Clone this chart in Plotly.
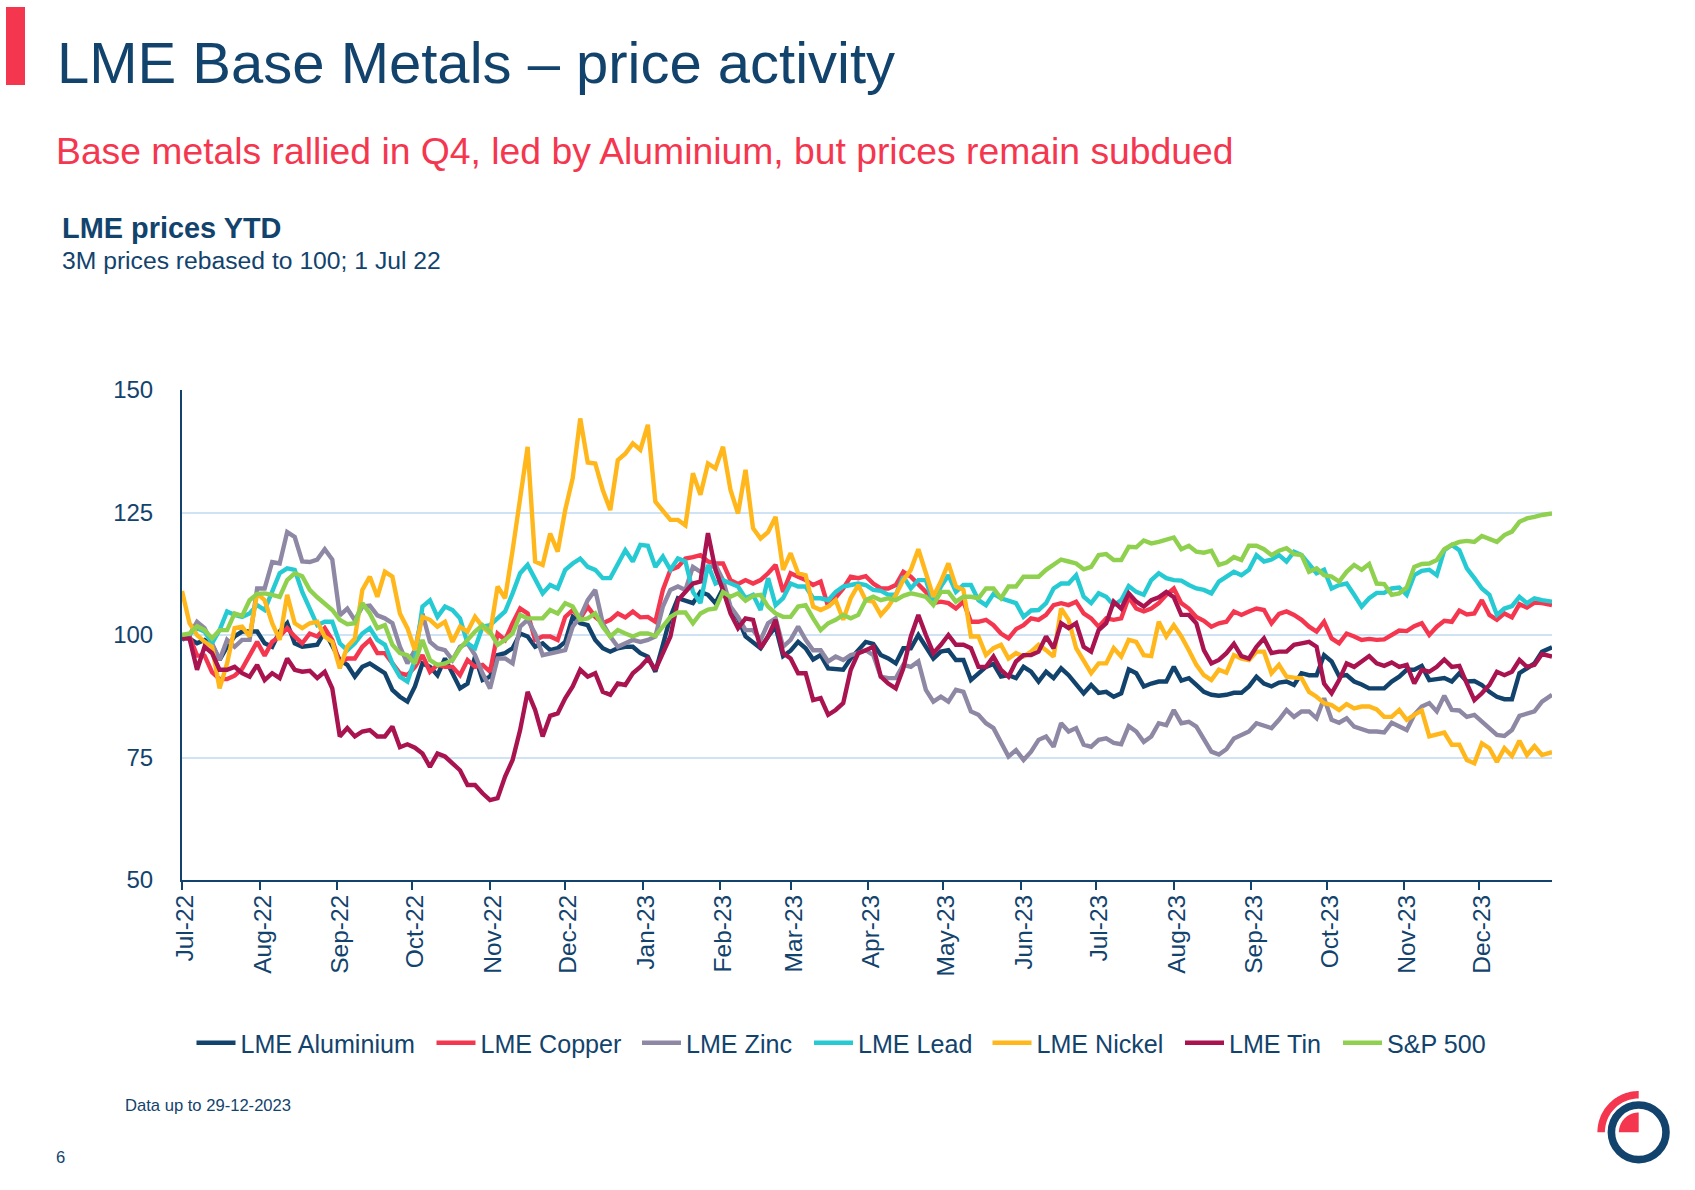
import datetime as dt
import numpy as np
import plotly.graph_objects as go

W, H = 1695, 1190
NAVY = "#12436D"
RED = "#F5364F"

# Sampled every three calendar days from 1 Jul 2022, closing at the end of Dec 2023
START = dt.date(2022, 7, 1)
END = dt.date(2023, 12, 30)
dates = [START + dt.timedelta(days=3 * i) for i in range(182)] + [END]

aluminium = [
    99.7, 99.3, 98.3, 99, 98, 94.9, 97.6, 99.7, 100.7, 100.7, 100.7, 98.3, 97.6, 100.7, 102.4, 98.3,
    97.6, 97.8, 98, 100.7, 97.6, 94.9, 93.9, 91.5, 93.5, 94.2, 93.2, 92.2, 88.8, 87.4, 86.4, 89.5,
    94.2, 93.5, 91.8, 95.2, 92.2, 89.1, 90.1, 95.6, 90.8, 91.5, 95.9, 96.3, 97.3, 100.3, 99.7, 97.6,
    98.3, 96.9, 97.3, 98.6, 103.7, 102.4, 102, 99, 97.3, 96.6, 97.3, 97.6, 97.6, 96.3,
    95.6, 92.5, 98, 103.7, 107.5, 107.1, 106.5, 108.8, 108.2, 106.5, 109.5, 105.1, 103.4, 99.7, 98.6, 97.3,
    99.7, 101.7, 95.7, 96.8, 98.6, 97.3, 95, 95.9, 93.2, 93.1, 92.9, 95.2, 96.9, 98.6, 98.2,
    95.9, 95.2, 94.2, 97.3, 97.3, 100, 97.6, 95.2, 96.6, 96.9, 94.9, 94.9, 90.8, 92.2, 93.5,
    94.1, 91.5, 91.8, 91.2, 93.5, 92.5, 90.5, 92.5, 91.2, 93.2, 91.8, 90.1, 88.1, 89.8, 88.2,
    88.4, 87.4, 88.1, 93, 92.2, 89.5, 90.1, 90.5, 90.5, 93.5, 90.7, 91.2, 89.8, 88.4, 87.8, 87.6,
    87.8, 88.2, 88.2, 89.5, 91.5, 90.1, 89.5, 90.3, 90.5, 89.8, 92.2, 91.8, 91.8, 95.9, 94.6,
    91.6, 91.8, 90.5, 89.9, 89.1, 89.1, 89.1, 90.5, 91.5, 92.9, 92.9, 93.7, 90.8, 91, 91.2,
    90.5, 92.2, 90.5, 90.6, 89.8, 88.4, 87.4, 86.9, 86.9, 92.2, 93.2, 94.2, 96.6, 97.5,
]
copper = [
    99.7, 99.7, 95.8, 95.8, 92.4, 91, 91, 91.7, 93.1, 95.8, 98.6, 95.8, 98.6, 99.7, 101.4, 99.7,
    98.3, 100.3, 99.7, 101.4, 99, 94.2, 95.2, 95.2, 97.6, 99, 96.3, 96.3, 94.2, 92.2, 91.8, 93.5,
    95.9, 92.5, 93.9, 93.5, 93.5, 91.8, 94.9, 93.5, 93.9, 92.5, 100.3, 99, 102.4, 105.4, 104.4, 99,
    99.7, 99.7, 99, 103.7, 105.1, 103.4, 105.8, 103.7, 102.4, 103.1, 104.4, 103.6, 104.8, 103.6,
    103.7, 102.7, 109.2, 113.3, 113.9, 115.6, 115.9, 116.3, 115, 114.6, 114.6, 111.2, 110.4, 111.2, 110.5, 111.2,
    112.6, 114.3, 108.8, 112.6, 111.9, 111.2, 110.2, 110.9, 105.8, 107.5, 109.5, 111.9, 111.6, 112, 110.5,
    109.5, 109.5, 110.2, 112.9, 111.9, 110.2, 108.8, 106.5, 106.8, 106.5, 105.4, 106.8, 102.7, 102.7, 103.1,
    102, 100.3, 99.3, 101.2, 102, 103.4, 103.1, 104.1, 106.1, 106.5, 106.1, 106.8, 104.4, 103.4, 101.7,
    103.4, 103.1, 103.4, 107.7, 105.4, 104.8, 105.4, 106.5, 108.2, 109.5, 106.5, 105.4, 103.7, 102.9, 101.7, 102.4,
    102.7, 104.8, 104.1, 104.8, 105.4, 105.1, 102.4, 104.3, 104.8, 104.1, 103.1, 101.7, 100.7, 102.7, 99.3,
    98.3, 100.3, 99.7, 99, 99.2, 99, 99.1, 100, 100.9, 100.8, 101.8, 102.4, 100, 101.7, 102.9,
    102.7, 105, 104.2, 104.4, 107.1, 104.1, 103.1, 104.4, 103.6, 106.3, 105.6, 106.6, 106.5, 106.1,
]
zinc = [
    100, 100, 102.7, 101.4, 98.3, 94.9, 99, 97.6, 99, 99, 109.5, 109.5, 114.9, 114.6, 121, 120,
    115, 114.9, 115.4, 117.5, 115.4, 104, 105.4, 103, 105.8, 106, 104, 103.4, 102.4, 97.6, 94.2, 96.9,
    104.4, 98.6, 97.3, 96.9, 94.9, 97.6, 98.3, 95.9, 92.2, 89.1, 95.2, 95.2, 94.2, 101.7, 103.1, 100.3,
    95.9, 96.3, 96.6, 96.9, 101.7, 103.7, 107.1, 109.2, 102.4, 99.7, 97.6, 98.3, 99, 98.6,
    99, 99.7, 105.8, 109.2, 109.9, 109.2, 113.9, 112.9, 113.6, 114.3, 111.2, 105.8, 103.7, 101, 101, 99,
    102.4, 103.4, 97.6, 99, 101.7, 99, 96.9, 96.9, 94.6, 95.6, 94.9, 95.9, 96.3, 96.9, 95.9,
    91.5, 91.2, 91.2, 93.9, 93.5, 94.6, 88.8, 86.4, 87.4, 86.4, 88.8, 88.4, 84.4, 83.7, 82,
    81, 78.2, 75.2, 76.5, 74.5, 76.2, 78.6, 79.3, 77.2, 82, 80.3, 81, 77.6, 77.2, 78.6,
    78.9, 78, 77.7, 81.4, 80.3, 78.2, 79.3, 82, 81.6, 84.7, 82, 82.3, 81.3, 78.6, 76.2, 75.6,
    76.7, 78.9, 79.6, 80.3, 82, 81.6, 81, 82.7, 84.7, 83.3, 84.4, 84.4, 83, 87.1, 82.7,
    82.1, 83, 81.3, 80.7, 80.3, 80.3, 80.1, 82.1, 81.4, 80.6, 83.7, 85.4, 86.1, 84.4, 87.6,
    84.7, 84.6, 83.3, 83.7, 82.3, 81, 79.6, 79.4, 80.6, 83.5, 84, 84.4, 86.4, 87.8,
]
lead = [
    98.9, 100.3, 101.4, 100.7, 98.3, 101, 104.8, 104.1, 103.7, 104.4, 106.1, 105.1, 108.8, 112.6, 113.6, 113.3,
    108.8, 105.4, 102, 102.7, 102.7, 98.3, 96.9, 98.3, 100.3, 101.4, 99, 98, 94.2, 91.5, 90.5, 95,
    105.8, 107.1, 103.7, 105.8, 105.1, 103.4, 98.3, 97.3, 101.7, 102, 103.4, 104.8, 108.5, 112.6, 114.3, 111.2,
    108.5, 110.2, 109.5, 113.3, 114.6, 115.6, 113.9, 113.3, 111.6, 111.6, 114.3, 117.3, 115, 118.4,
    118.2, 113.9, 116, 113.3, 115.6, 115, 108.8, 106.5, 114.3, 110.5, 111.2, 110.5, 109.9, 107.5, 108.2, 105.1,
    111.6, 106.1, 107.5, 110.5, 109.9, 109.9, 107.5, 107.5, 107.1, 108.8, 109.9, 110.2, 110.5, 110.2, 109.2,
    109, 108.2, 108.2, 111.9, 109.5, 111.2, 111.2, 106.5, 109.9, 112.2, 108.8, 110.2, 110.2, 107.1, 106.1,
    108.4, 107.5, 107.1, 106.5, 103.7, 105, 105.1, 106.5, 109.5, 110.5, 110.5, 112.2, 107.8, 106.5, 108.5,
    107.8, 106.1, 107.1, 110, 108.8, 108.2, 111.2, 112.6, 111.6, 111.2, 111.1, 110.2, 109.5, 109.2, 108.5, 110.9,
    111.9, 112.9, 112.2, 113.3, 116.3, 115, 115.4, 116.3, 115, 117, 116.3, 114.3, 112.6, 113.3, 109.5,
    110.2, 110.5, 108.2, 105.8, 107.5, 108.6, 108.6, 109.5, 109.7, 108.2, 112.2, 113.1, 113.3, 112.2, 117.3,
    118.4, 117.3, 113.6, 111.6, 109.5, 108.2, 104.1, 105.4, 105.9, 107.8, 106.5, 107.5, 107.1, 106.8,
]
nickel = [
    109, 102.4, 100, 98.6, 97.6, 89.1, 94.2, 101.4, 101.7, 99.7, 108.5, 107.1, 102.4, 99, 108.2, 102.4,
    101.4, 102.4, 102.7, 99.7, 98.6, 93.2, 97.6, 99.3, 109.2, 111.9, 107.8, 112.9, 111.9, 104.4, 101.4, 96.9,
    103.7, 103.1, 101.7, 102.7, 98.6, 101.7, 100.7, 103.7, 101.7, 100.3, 109.9, 107.5, 117.3, 128.2, 138.4, 115,
    114.3, 120.7, 117, 125.5, 132, 144.2, 135.2, 135, 129.6, 125.5, 135.7, 137, 139.1, 137.8,
    142.9, 127.2, 125.5, 123.5, 123.5, 122.4, 133, 128.6, 135, 134, 138.4, 129.6, 124.8, 133.7, 121.8, 119.7,
    121, 124.1, 113.3, 116.7, 112.6, 112.2, 105.8, 105.1, 105.8, 107.1, 103.1, 107.5, 110.2, 107.1, 106.8,
    104.1, 105.8, 108.2, 111.2, 113.3, 117.5, 112.6, 107.8, 110.9, 114.6, 109.9, 109.2, 99.7, 99.7, 95.9,
    97.3, 98, 95.2, 96.3, 95.6, 96.6, 98, 96.9, 95.6, 105.4, 103.1, 97.3, 94.9, 92.2, 94.2,
    94.2, 97.3, 95.6, 99, 98.6, 95.9, 95.7, 102.7, 99.7, 102, 99.7, 96.9, 93.9, 91.8, 90.8, 92.9,
    92.3, 95.9, 95.2, 94.9, 96.6, 96.6, 92.2, 93.9, 91.5, 91.3, 91.2, 88.4, 87.4, 86.1, 85.7,
    84.7, 85.9, 85, 85.4, 85.4, 84.8, 83.3, 83.3, 84.7, 82.7, 83.7, 84.6, 79.3, 79.8, 80.1,
    77.6, 77.6, 74.5, 73.8, 77.9, 76.9, 74.1, 76.9, 75.3, 78.4, 75.5, 77.3, 75.5, 76.1,
]
tin = [
    99.3, 99.3, 92.9, 97.6, 96.3, 92.9, 92.9, 93.5, 92.2, 91.5, 93.9, 90.8, 92.2, 91.2, 95.2, 92.9,
    92.5, 92.7, 91.2, 92.5, 89.1, 79.3, 81, 79.3, 80.3, 80.6, 79.3, 79.3, 81.3, 77.1, 77.7, 77,
    75.8, 73.1, 75.8, 75.2, 73.8, 72.4, 69.4, 69.4, 67.7, 66.3, 66.7, 71.1, 74.5, 80.6, 88.4, 84.7,
    79.3, 83.5, 84, 87.1, 89.5, 92.9, 91.5, 92.2, 88.4, 87.8, 90.1, 89.8, 92.2, 93.5,
    95.2, 92.9, 96.3, 99.7, 107.1, 108.8, 110.5, 110.9, 120.8, 113.3, 109.2, 104.4, 101.4, 103.4, 103.1, 97.3,
    99.7, 103.1, 96.3, 95.2, 92.2, 92.2, 86.7, 87.1, 83.7, 84.7, 86.1, 92.9, 96.3, 96.9, 97.6,
    91.5, 90.1, 89.1, 93.2, 99.7, 104.1, 100, 96.3, 98, 100, 98, 98, 97.3, 93.5, 93.5,
    95.6, 92.9, 91.5, 94.6, 95.9, 95.9, 96.6, 99.7, 97.3, 102.4, 101.4, 102.4, 97.6, 96.6, 101,
    102.4, 106.8, 105.4, 108.5, 106.8, 105.8, 107.1, 107.7, 108.8, 107.7, 104.1, 104.1, 102.4, 96.9, 94.2, 94.9,
    96.3, 98.2, 95.7, 95.2, 97.6, 99.3, 96.3, 96.6, 96.6, 98, 98.3, 98.6, 97.6, 90.1, 88.1,
    90.8, 94.2, 93.5, 94.6, 95.7, 94.2, 93.7, 94.4, 93.5, 93.9, 90.1, 92.9, 92.5, 93.5, 95,
    93.5, 93.7, 90.1, 86.7, 88.1, 89.8, 92.5, 91.8, 92.5, 94.9, 93.5, 93.9, 96.1, 95.6,
]
sp500 = [
    100, 100.3, 101.8, 101, 99.3, 101, 101, 104.4, 103.9, 107.1, 108.4, 108.5, 108.2, 107.8, 111.2, 112.6,
    112, 109.2, 107.7, 106.5, 105.1, 103.1, 102.2, 102.4, 106.5, 104.4, 101.4, 102, 98, 96.3, 95.9, 94.2,
    99, 94.9, 93.9, 94.2, 94.9, 97.3, 99, 100.7, 102, 100.7, 98, 99, 100.3, 104.1, 103.4, 103.4,
    103.4, 105.1, 104.4, 106.5, 105.8, 103.1, 103.4, 104.4, 101.7, 99.7, 101, 100.3, 99.7, 100.3,
    100.3, 99.8, 101.7, 103.7, 104.6, 104.6, 102.4, 104.4, 105.2, 105.4, 108.8, 107.8, 108.5, 107, 108, 108.2,
    105.8, 104.4, 103.7, 103.7, 105.8, 106.1, 103.4, 101, 102.4, 103.1, 104.1, 103.4, 104.1, 107.1, 107.8,
    107.1, 107.5, 107.1, 108, 108.5, 108.2, 107.8, 106.1, 108.8, 108.8, 106.8, 107.8, 107.8, 107.5, 109.5,
    109.5, 107.5, 109.9, 109.9, 111.9, 111.9, 111.9, 113.3, 114.3, 115.4, 115, 114.6, 113.4, 113.9, 116.3,
    116.5, 115.3, 115.3, 118, 117.9, 119.3, 118.7, 119, 119.4, 119.9, 117.5, 118.2, 117, 116.8, 117.2, 114.3,
    114.8, 115.9, 115.3, 118.2, 118.2, 117.5, 116.3, 117.2, 117.7, 116.5, 116.3, 112.9, 113.6, 112.2, 111.9,
    110.9, 112.9, 114.3, 113.3, 114.5, 110.5, 110.4, 108.2, 108.5, 109.7, 113.9, 114.5, 114.6, 115.3, 117.5,
    118.4, 119, 119.2, 119, 120.2, 119.6, 119, 120.4, 121.1, 123.1, 123.8, 124.1, 124.5, 124.8,
]

series_names = ["LME Aluminium", "LME Copper", "LME Zinc", "LME Lead", "LME Nickel", "LME Tin", "S&P 500"]
series_values = [aluminium, copper, zinc, lead, nickel, tin, sp500]
series_colors = [NAVY, RED, "#8F88A5", "#26CAD3", "#FFB71B", "#A9134F", "#8FD14F"]
legend_left = [191.5, 431.5, 637, 809, 987.5, 1180, 1338]

for name, values in zip(series_names, series_values):
    assert len(values) == len(dates), (name, len(values), len(dates))

FONT = "Liberation Sans, Arial, sans-serif"


def px(x):
    return x / W


def py(y):
    return 1 - y / H


def arc(cx, cy, r, a0, a1, n=40):
    t = np.radians(np.linspace(a0, a1, n))
    return [(cx + r * np.cos(v), cy - r * np.sin(v)) for v in t]


def poly_path(points):
    body = " L ".join(f"{px(a):.5f},{py(b):.5f}" for a, b in points)
    return f"M {body} Z"


fig = go.Figure()
for k, (name, values, color) in enumerate(zip(series_names, series_values, series_colors)):
    fig.add_trace(go.Scatter(x=dates, y=values, name=name, mode="lines",
                             legend="legend" if k == 0 else f"legend{k + 1}",
                             line=dict(color=color, width=4.4), hoverinfo="x+y+name"))

# Brand marks: the side bar and the ring logo in the footer
LOGO_X, LOGO_Y = 1638.7, 1132.3
shapes = [
    dict(type="rect", xref="paper", yref="paper", x0=px(6), x1=px(25), y0=py(7), y1=py(85),
         fillcolor=RED, line_width=0),
    dict(type="path", xref="paper", yref="paper", fillcolor=RED, line_width=0,
         path=poly_path(arc(LOGO_X, LOGO_Y, 41.3, 90, 180) + arc(LOGO_X, LOGO_Y, 33.8, 180, 90))),
    dict(type="path", xref="paper", yref="paper", fillcolor=RED, line_width=0,
         path=poly_path([(LOGO_X, LOGO_Y)] + arc(LOGO_X, LOGO_Y, 19.8, 90, 180))),
    dict(type="circle", xref="paper", yref="paper", fillcolor="rgba(0,0,0,0)",
         x0=px(LOGO_X - 27.3), x1=px(LOGO_X + 27.3), y0=py(LOGO_Y + 27.3), y1=py(LOGO_Y - 27.3),
         line=dict(color=NAVY, width=7.6)),
]


def label(text, x, y, size, color=NAVY):
    return dict(text=text, x=px(x), y=py(y), xref="paper", yref="paper", xanchor="left", yanchor="middle",
                showarrow=False, align="left", font=dict(family=FONT, size=size, color=color))


annotations = [
    label("LME Base Metals – price activity", 54.5, 62.5, 58),
    label("Base metals rallied in Q4, led by Aluminium, but prices remain subdued", 54, 151, 37.3, RED),
    label("<b>LME prices YTD</b>", 60, 228, 28.9),
    label("3M prices rebased to 100; 1 Jul 22", 60, 260, 24.7),
    label("Data up to 29-12-2023", 122.5, 1105, 16.6),
    label("6", 53.5, 1157, 16.6),
]

legends = {}
for k, left in enumerate(legend_left):
    key = "legend" if k == 0 else f"legend{k + 1}"
    legends[key] = dict(orientation="h", x=px(left), y=py(1043), xanchor="left", yanchor="middle",
                        itemwidth=39, font=dict(family=FONT, size=25.1, color=NAVY),
                        bgcolor="rgba(0,0,0,0)", itemclick=False, itemdoubleclick=False)

fig.update_layout(
    width=W, height=H, autosize=False,
    margin=dict(l=0, r=0, t=0, b=0, autoexpand=False),
    paper_bgcolor="white", plot_bgcolor="white",
    font=dict(family=FONT, color=NAVY, size=24),
    shapes=shapes, annotations=annotations,
    showlegend=True,
    xaxis=dict(
        domain=[px(182), px(1552)], type="date", range=[START.isoformat(), END.isoformat()],
        dtick="M1", tick0=START.isoformat(), tickformat="%b-%y", tickangle=-90,
        ticks="outside", ticklen=8, tickwidth=2, tickcolor=NAVY,
        showline=True, linecolor=NAVY, linewidth=2, showgrid=False, zeroline=False,
        ticklabelstandoff=-5, ticklabelshift=3,
        tickfont=dict(family=FONT, size=24.5, color=NAVY),
    ),
    yaxis=dict(
        domain=[py(880), py(390)], range=[50, 150], tickvals=[50, 75, 100, 125, 150],
        ticks="", showline=True, linecolor=NAVY, linewidth=2,
        showgrid=True, gridcolor="#CFE3F5", gridwidth=1.7, zeroline=False,
        ticklabelstandoff=22, tickfont=dict(family=FONT, size=24, color=NAVY),
    ),
    **legends,
)

fig.write_html("out.html")
